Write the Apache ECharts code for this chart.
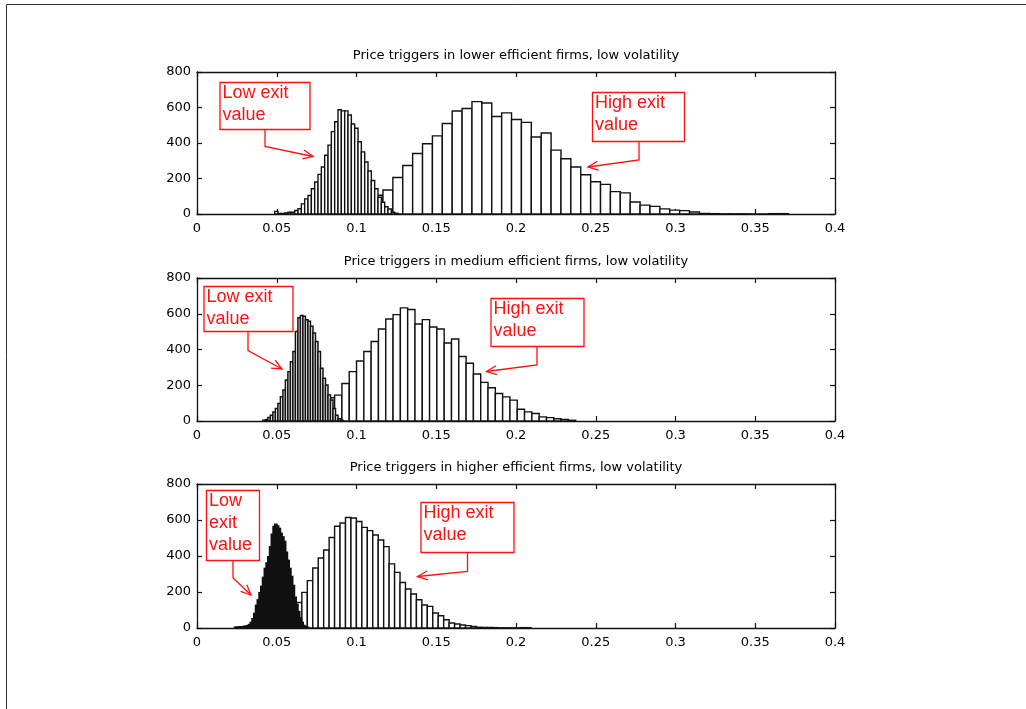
<!DOCTYPE html>
<html>
<head>
<meta charset="utf-8">
<script src="https://cdn.jsdelivr.net/npm/echarts@6/dist/echarts.min.js"></script>
<style>
  html, body { margin: 0; padding: 0; background: #fff; }
  #main { width: 1026px; height: 709px; }
</style>
</head>
<body>
<div id="main"></div>
<script>
// axis ranges
var xMin = 0, xMax = 0.4, xStep = 0.05;
var yMin = 0, yMax = 800, yStep = 200;

var titles = [
  'Price triggers in lower efficient firms, low volatility',
  'Price triggers in medium efficient firms, low volatility',
  'Price triggers in higher efficient firms, low volatility'
];

// histograms: left edge of first bin, bin width, counts per bin
var topLowStart = 0.0487, topLowWidth = 0.00209;
var topLowCounts = [15, 3, 3, 6, 10, 10, 20, 30, 57, 85, 104, 142, 180, 223, 265, 331, 388, 464, 520,
  587, 581, 581, 558, 507, 483, 407, 350, 293, 242, 189, 142, 94, 66, 41, 28, 10, 4];

var topHighStart = 0.1042, topHighWidth = 0.0062;
var topHighCounts = [50, 106, 135, 206, 273, 341, 396, 440, 510, 580, 594, 633, 625, 549, 570, 532, 516,
  434, 456, 360, 311, 265, 221, 182, 167, 126, 119, 68, 50, 43, 29, 22, 19, 11, 3, 2, 1, 1, 1, 0, 0, 2, 2];

var midLowStart = 0.0413, midLowWidth = 0.00157;
var midLowCounts = [4, 8, 19, 32, 51, 70, 98, 135, 173, 229, 276, 332, 389, 501, 577, 590, 586, 567,
  558, 530, 492, 445, 389, 295, 239, 201, 145, 117, 70, 32, 13, 4];

var midHighStart = 0.0817, midHighWidth = 0.00458;
var midHighCounts = [130, 145, 210, 276, 336, 389, 445, 515, 571, 595, 633, 624, 543, 567, 526, 515, 436,
  459, 361, 323, 263, 216, 186, 154, 135, 117, 66, 51, 42, 23, 19, 13, 9, 4];

var botLowStart = 0.0236, botLowWidth = 0.0011;
var botLowCounts = [3, 4, 4, 6, 6, 8, 9, 12, 18, 30, 50, 80, 125, 155, 195, 230, 280, 330, 360, 395, 450,
  520, 563, 575, 566, 552, 525, 505, 480, 420, 375, 330, 285, 235, 170, 130, 90, 55, 30, 13, 6, 3];

var botHighStart = 0.0589, botHighWidth = 0.00342;
var botHighCounts = [60, 142, 198, 263, 333, 389, 433, 503, 565, 583, 614, 611, 592, 559, 541, 517, 489,
  452, 356, 309, 253, 217, 189, 157, 128, 120, 83, 68, 46, 28, 22, 17, 13, 9, 4, 3, 3, 2, 1, 1, 1, 0, 2, 2];

var annotations = [
  { text: 'Low exit\nvalue',   box: [220, 82.5, 90, 47],   arrow: [[265, 129.5], [265, 146.5], [313, 156.5]] },
  { text: 'High exit\nvalue',  box: [592.5, 92.5, 92, 49], arrow: [[639, 141.5], [639, 160], [588, 167]] },
  { text: 'Low exit\nvalue',   box: [204, 286.5, 89, 45],  arrow: [[248, 331.5], [248, 350.5], [282, 369]] },
  { text: 'High exit\nvalue',  box: [491, 298.5, 93, 48],  arrow: [[537, 346.5], [537, 365], [486.5, 371.5]] },
  { text: 'Low\nexit\nvalue',  box: [206.5, 490.5, 53, 70], arrow: [[233, 560.5], [233, 578], [251, 595]] },
  { text: 'High exit\nvalue',  box: [421, 502.5, 93, 50],  arrow: [[467.5, 552.5], [467.5, 571.5], [417.5, 576.5]] }
];

function bins(start, width, counts) {
  return counts.map(function (c, i) {
    return [start + i * width, start + (i + 1) * width, c];
  });
}

var panels = [
  { top: 72,  height: 142, low: bins(topLowStart, topLowWidth, topLowCounts), high: bins(topHighStart, topHighWidth, topHighCounts), lowLine: 1.4 },
  { top: 278, height: 143, low: bins(midLowStart, midLowWidth, midLowCounts), high: bins(midHighStart, midHighWidth, midHighCounts), lowLine: 1.5 },
  { top: 484, height: 144, low: bins(botLowStart, botLowWidth, botLowCounts), high: bins(botHighStart, botHighWidth, botHighCounts), lowLine: 1.9 }
];

function barRenderer(lineWidth) {
  return function (params, api) {
    var p0 = api.coord([api.value(0), api.value(2)]);
    var p1 = api.coord([api.value(1), 0]);
    return {
      type: 'rect',
      shape: { x: p0[0], y: p0[1], width: p1[0] - p0[0], height: p1[1] - p0[1] },
      style: { fill: '#fff', stroke: '#111', lineWidth: lineWidth }
    };
  };
}

var font = 'DejaVu Sans';
var grids = [], xAxes = [], yAxes = [], series = [], titleList = [];

panels.forEach(function (p, g) {
  grids.push({ left: 197, width: 638, top: p.top, height: p.height });
  titleList.push({
    text: titles[g], left: 516, top: p.top - 23, textAlign: 'center', padding: 0,
    textStyle: { fontFamily: font, fontSize: 13, fontWeight: 'normal', color: '#000' }
  });
  var axLine = { show: true, onZero: false, lineStyle: { color: '#111', width: 1.3 } };
  var tick = { show: true, inside: true, length: 5, lineStyle: { color: '#111', width: 1.2 } };
  xAxes.push({
    gridIndex: g, type: 'value', min: xMin, max: xMax, interval: xStep,
    axisLine: axLine, axisTick: tick, splitLine: { show: false },
    axisLabel: { color: '#000', fontFamily: font, fontSize: 13, margin: 8, showMinLabel: true, showMaxLabel: true }
  });
  xAxes.push({
    gridIndex: g, type: 'value', position: 'top', min: xMin, max: xMax, interval: xStep,
    axisLine: axLine, axisTick: tick, splitLine: { show: false }, axisLabel: { show: false }
  });
  yAxes.push({
    gridIndex: g, type: 'value', min: yMin, max: yMax, interval: yStep,
    axisLine: axLine, axisTick: tick, splitLine: { show: false },
    axisLabel: { color: '#000', fontFamily: font, fontSize: 13, margin: 6, showMinLabel: true, showMaxLabel: true }
  });
  yAxes.push({
    gridIndex: g, type: 'value', position: 'right', min: yMin, max: yMax, interval: yStep,
    axisLine: axLine, axisTick: tick, splitLine: { show: false }, axisLabel: { show: false }
  });
  [[p.high, 1.4], [p.low, p.lowLine]].forEach(function (s) {
    series.push({
      type: 'custom', xAxisIndex: 2 * g, yAxisIndex: 2 * g,
      renderItem: barRenderer(s[1]), encode: { x: [0, 1], y: 2 },
      data: s[0], clip: true, silent: true, animation: false
    });
  });
});

function arrowParts(pts, color) {
  var a = pts[pts.length - 2], b = pts[pts.length - 1];
  var ang = Math.atan2(b[1] - a[1], b[0] - a[0]);
  var L = 11, w = 0.42;
  var h1 = [b[0] - L * Math.cos(ang - w), b[1] - L * Math.sin(ang - w)];
  var h2 = [b[0] - L * Math.cos(ang + w), b[1] - L * Math.sin(ang + w)];
  var st = { stroke: color, lineWidth: 1.3, fill: null };
  return [
    { type: 'polyline', shape: { points: pts }, style: st },
    { type: 'polyline', shape: { points: [h1, b, h2] }, style: st }
  ];
}

var red = '#ff1010';
var graphics = [
  { type: 'polyline', shape: { points: [[1026, 4.5], [6.5, 4.5], [6.5, 709]] },
    style: { stroke: '#333', lineWidth: 1, fill: null } }
];
annotations.forEach(function (a) {
  graphics.push({
    type: 'rect', shape: { x: a.box[0], y: a.box[1], width: a.box[2], height: a.box[3] },
    style: { fill: '#fff', stroke: red, lineWidth: 1.3 }
  });
  graphics.push({
    type: 'text', x: a.box[0] + 2.5, y: a.box[1] - 0.5,
    style: { text: a.text, fill: red, fontFamily: 'Liberation Sans', fontSize: 18, lineHeight: 22 }
  });
  arrowParts(a.arrow, red).forEach(function (e) { graphics.push(e); });
});

var chart = echarts.init(document.getElementById('main'));
chart.setOption({
  animation: false,
  backgroundColor: '#fff',
  title: titleList,
  grid: grids,
  xAxis: xAxes,
  yAxis: yAxes,
  series: series,
  graphic: graphics
});
</script>
</body>
</html>
